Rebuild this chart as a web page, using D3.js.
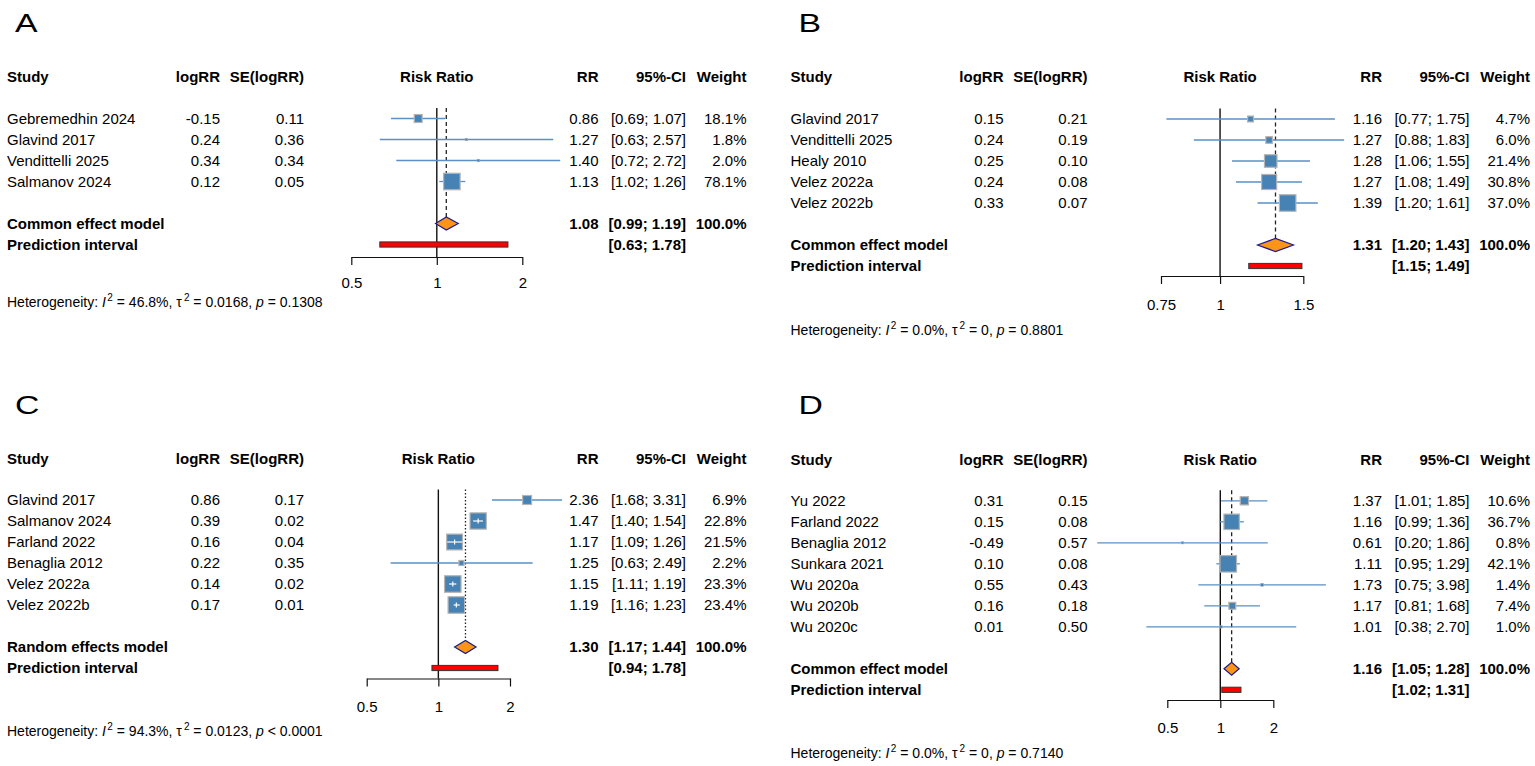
<!DOCTYPE html>
<html><head><meta charset="utf-8">
<script src="https://cdn.jsdelivr.net/npm/d3@7"></script>
<style>
body{margin:0;background:#fff;}
svg{display:block;}
text{font-family:"Liberation Sans",Arial,Helvetica,sans-serif;fill:#000;}
</style>
</head><body>
<svg id="chart" width="1535" height="766"></svg>
<script>
// ---------- Panel A ----------
const studiesA = ["Gebremedhin 2024", "Glavind 2017", "Vendittelli 2025", "Salmanov 2024"];
const logRRA   = [-0.15, 0.24, 0.34, 0.12];
const seA      = [0.11, 0.36, 0.34, 0.05];
const rrA      = [0.86, 1.27, 1.40, 1.13];
const ciLoA    = [0.69, 0.63, 0.72, 1.02];
const ciHiA    = [1.07, 2.57, 2.72, 1.26];
const weightA  = [18.1, 1.8, 2.0, 78.1];
const pooledA  = [1.08, 0.99, 1.19];
const predA    = [0.63, 1.78];
const ticksA   = [0.5, 1, 2];
const hetA     = ["46.8%", "0.0168", "= 0.1308"];

// ---------- Panel B ----------
const studiesB = ["Glavind 2017", "Vendittelli 2025", "Healy 2010", "Velez 2022a", "Velez 2022b"];
const logRRB   = [0.15, 0.24, 0.25, 0.24, 0.33];
const seB      = [0.21, 0.19, 0.10, 0.08, 0.07];
const rrB      = [1.16, 1.27, 1.28, 1.27, 1.39];
const ciLoB    = [0.77, 0.88, 1.06, 1.08, 1.20];
const ciHiB    = [1.75, 1.83, 1.55, 1.49, 1.61];
const weightB  = [4.7, 6.0, 21.4, 30.8, 37.0];
const pooledB  = [1.31, 1.20, 1.43];
const predB    = [1.15, 1.49];
const ticksB   = [0.75, 1, 1.5];
const hetB     = ["0.0%", "0", "= 0.8801"];

// ---------- Panel C ----------
const studiesC = ["Glavind 2017", "Salmanov 2024", "Farland 2022", "Benaglia 2012", "Velez 2022a", "Velez 2022b"];
const logRRC   = [0.86, 0.39, 0.16, 0.22, 0.14, 0.17];
const seC      = [0.17, 0.02, 0.04, 0.35, 0.02, 0.01];
const rrC      = [2.36, 1.47, 1.17, 1.25, 1.15, 1.19];
const ciLoC    = [1.68, 1.40, 1.09, 0.63, 1.11, 1.16];
const ciHiC    = [3.31, 1.54, 1.26, 2.49, 1.19, 1.23];
const weightC  = [6.9, 22.8, 21.5, 2.2, 23.3, 23.4];
const pooledC  = [1.30, 1.17, 1.44];
const predC    = [0.94, 1.78];
const ticksC   = [0.5, 1, 2];
const hetC     = ["94.3%", "0.0123", "< 0.0001"];

// ---------- Panel D ----------
const studiesD = ["Yu 2022", "Farland 2022", "Benaglia 2012", "Sunkara 2021", "Wu 2020a", "Wu 2020b", "Wu 2020c"];
const logRRD   = [0.31, 0.15, -0.49, 0.10, 0.55, 0.16, 0.01];
const seD      = [0.15, 0.08, 0.57, 0.08, 0.43, 0.18, 0.50];
const rrD      = [1.37, 1.16, 0.61, 1.11, 1.73, 1.17, 1.01];
const ciLoD    = [1.01, 0.99, 0.20, 0.95, 0.75, 0.81, 0.38];
const ciHiD    = [1.85, 1.36, 1.86, 1.29, 3.98, 1.68, 2.70];
const weightD  = [10.6, 36.7, 0.8, 42.1, 1.4, 7.4, 1.0];
const pooledD  = [1.16, 1.05, 1.28];
const predD    = [1.02, 1.31];
const ticksD   = [0.5, 1, 2];
const hetD     = ["0.0%", "0", "= 0.7140"];

const panels = [
  {letter:"A", studies:studiesA, logRR:logRRA, se:seA, rr:rrA, lo:ciLoA, hi:ciHiA, w:weightA,
   model:"Common effect model", pooled:pooledA, pred:predA, ticks:ticksA, het:hetA, dash:"4,3",
   L:{ox:0, letterY:32, headerY:77, row0:118.5, xRange:[351.3,522.3], axisY:257, tickLabY:283, hetY:302}},
  {letter:"B", studies:studiesB, logRR:logRRB, se:seB, rr:rrB, lo:ciLoB, hi:ciHiB, w:weightB,
   model:"Common effect model", pooled:pooledB, pred:predB, ticks:ticksB, het:hetB, dash:"4,3",
   L:{ox:783.5, letterY:32, headerY:77, row0:119, xRange:[1161,1303.3], axisY:276, tickLabY:305, hetY:330}},
  {letter:"C", studies:studiesC, logRR:logRRC, se:seC, rr:rrC, lo:ciLoC, hi:ciHiC, w:weightC,
   model:"Random effects model", pooled:pooledC, pred:predC, ticks:ticksC, het:hetC, dash:"1.5,2",
   L:{ox:0, letterY:414, headerY:459, row0:500, xRange:[366.7,510], axisY:678.5, tickLabY:706.7, hetY:730.7}},
  {letter:"D", studies:studiesD, logRR:logRRD, se:seD, rr:rrD, lo:ciLoD, hi:ciHiD, w:weightD,
   model:"Common effect model", pooled:pooledD, pred:predD, ticks:ticksD, het:hetD, dash:"4,3",
   L:{ox:783.5, letterY:414, headerY:459.3, row0:500.8, xRange:[1167.3,1273.3], axisY:700, tickLabY:727.7, hetY:752.7}}
];

const svg = d3.select("#chart");
const ROW = 21, FS = 15, TICK = 8;
const f2 = v => v.toFixed(2);
const ci = (a,b) => "[" + f2(a) + "; " + f2(b) + "]";
const LINE_COL = "#5a90c6", BOX_COL = "#4682b4", BOX_STROKE = "#b4b4b4";

panels.forEach(p => {
  const L = p.L, ox = L.ox;
  const g = svg.append("g");
  const x = d3.scaleLog().domain([p.ticks[0], p.ticks[p.ticks.length-1]]).range(L.xRange);
  const n = p.studies.length;
  const rowY = i => L.row0 + i*ROW;
  const sumY = rowY(n+1), piY = rowY(n+2);
  const cx = {study:ox+7, logrr:ox+220, se:ox+304, rr:ox+598.5, ci:ox+686, w:ox+746.5};

  // panel letter (wide glyphs)
  g.append("text").attr("transform", `translate(${ox+15},${L.letterY}) scale(1.3,1)`)
    .attr("font-size", 26).text(p.letter);

  // headers
  const hdr = [["Study", cx.study, "start"], ["logRR", cx.logrr, "end"], ["SE(logRR)", cx.se, "end"],
               ["Risk Ratio", x(1), "middle"], ["RR", cx.rr, "end"], ["95%-CI", cx.ci, "end"], ["Weight", cx.w, "end"]];
  g.selectAll(".hdr").data(hdr).join("text")
    .attr("x", d => d[1]).attr("y", L.headerY).attr("dy", "0.36em")
    .attr("text-anchor", d => d[2]).attr("font-size", FS).attr("font-weight", "bold")
    .text(d => d[0]);

  // study rows
  const rows = d3.range(n);
  const cols = [
    [i => p.studies[i], cx.study, "start"],
    [i => f2(p.logRR[i]), cx.logrr, "end"],
    [i => f2(p.se[i]), cx.se, "end"],
    [i => f2(p.rr[i]), cx.rr, "end"],
    [i => ci(p.lo[i], p.hi[i]), cx.ci, "end"],
    [i => p.w[i].toFixed(1) + "%", cx.w, "end"]
  ];
  cols.forEach(c => {
    g.append("g").selectAll("text").data(rows).join("text")
      .attr("x", c[1]).attr("y", i => rowY(i)).attr("dy", "0.36em")
      .attr("text-anchor", c[2]).attr("font-size", FS).text(c[0]);
  });

  // summary rows text
  const sumTxt = [
    [p.model, cx.study, "start", sumY], [f2(p.pooled[0]), cx.rr, "end", sumY],
    [ci(p.pooled[1], p.pooled[2]), cx.ci, "end", sumY], ["100.0%", cx.w, "end", sumY],
    ["Prediction interval", cx.study, "start", piY], [ci(p.pred[0], p.pred[1]), cx.ci, "end", piY]
  ];
  g.selectAll(".sum").data(sumTxt).join("text")
    .attr("x", d => d[1]).attr("y", d => d[3]).attr("dy", "0.36em")
    .attr("text-anchor", d => d[2]).attr("font-size", FS).attr("font-weight", "bold")
    .text(d => d[0]);

  // forest plot
  const top = L.row0 - 10.5;
  g.append("line").attr("x1", x(1)).attr("x2", x(1)).attr("y1", top).attr("y2", L.axisY)
    .attr("stroke", "#111").attr("stroke-width", 1.4);
  g.append("line").attr("x1", x(p.pooled[0])).attr("x2", x(p.pooled[0]))
    .attr("y1", top).attr("y2", sumY - 6.5)
    .attr("stroke", "#222").attr("stroke-width", 1.3).attr("stroke-dasharray", p.dash);

  const wmax = d3.max(p.w);
  const size = i => 16.5 * Math.sqrt(p.w[i] / wmax);
  // CI lines
  g.append("g").selectAll("line").data(rows).join("line")
    .attr("x1", i => x(p.lo[i])).attr("x2", i => x(p.hi[i]))
    .attr("y1", i => rowY(i)).attr("y2", i => rowY(i))
    .attr("stroke", LINE_COL).attr("stroke-width", 1.3);
  // boxes
  g.append("g").selectAll("rect").data(rows).join("rect")
    .attr("x", i => x(p.rr[i]) - size(i)/2).attr("y", i => rowY(i) - size(i)/2)
    .attr("width", size).attr("height", size)
    .attr("fill", BOX_COL).attr("stroke", BOX_STROKE).attr("stroke-width", i => size(i) > 4 ? 1.2 : 0.5);
  // white CI inside boxes
  const inside = rows.filter(i => x(p.hi[i]) - x(p.lo[i]) < size(i));
  const gi = g.append("g");
  gi.selectAll(".h").data(inside).join("line")
    .attr("x1", i => x(p.lo[i])).attr("x2", i => x(p.hi[i]))
    .attr("y1", i => rowY(i)).attr("y2", i => rowY(i))
    .attr("stroke", "#fff").attr("stroke-width", 1.2);
  gi.selectAll(".v").data(inside).join("line")
    .attr("x1", i => x(p.rr[i])).attr("x2", i => x(p.rr[i]))
    .attr("y1", i => rowY(i) - 2.5).attr("y2", i => rowY(i) + 2.5)
    .attr("stroke", "#fff").attr("stroke-width", 1.2);

  // diamond
  const dh = 6.5;
  g.append("path")
    .attr("d", `M${x(p.pooled[1])},${sumY} L${x(p.pooled[0])},${sumY-dh} L${x(p.pooled[2])},${sumY} L${x(p.pooled[0])},${sumY+dh} Z`)
    .attr("fill", "#fb9419").attr("stroke", "#1c1c8a").attr("stroke-width", 1.2);

  // prediction interval
  g.append("rect").attr("x", x(p.pred[0])).attr("y", piY - 2.6)
    .attr("width", x(p.pred[1]) - x(p.pred[0])).attr("height", 5.2)
    .attr("fill", "#ff0000").attr("stroke", "#333").attr("stroke-width", 1);

  // axis
  const ax = d3.axisBottom(x).tickValues(p.ticks).tickFormat(d => String(d))
    .tickSize(TICK).tickSizeOuter(0).tickPadding(L.tickLabY - L.axisY - TICK - 5.4);
  const ag = g.append("g").attr("transform", `translate(0,${L.axisY})`).call(ax);
  ag.attr("font-size", FS).attr("font-family", null);
  ag.selectAll("path,line").attr("stroke", "#111").attr("stroke-width", 1.2);
  ag.selectAll("text").attr("fill", "#000");

  // heterogeneity
  const ht = g.append("text").attr("x", ox+7).attr("y", L.hetY).attr("dy", "0.36em").attr("font-size", 14);
  ht.append("tspan").text("Heterogeneity: ");
  ht.append("tspan").attr("font-style", "italic").text("I");
  ht.append("tspan").attr("font-size", 10).attr("dx", 1.5).attr("dy", -6).text("2");
  ht.append("tspan").attr("dy", 6).text(" = " + p.het[0] + ", \u03c4");
  ht.append("tspan").attr("font-size", 10).attr("dx", 2).attr("dy", -6).text("2");
  ht.append("tspan").attr("dy", 6).text(" = " + p.het[1] + ", ");
  ht.append("tspan").attr("font-style", "italic").text("p");
  ht.append("tspan").text(" " + p.het[2]);
});
</script>
</body></html>
